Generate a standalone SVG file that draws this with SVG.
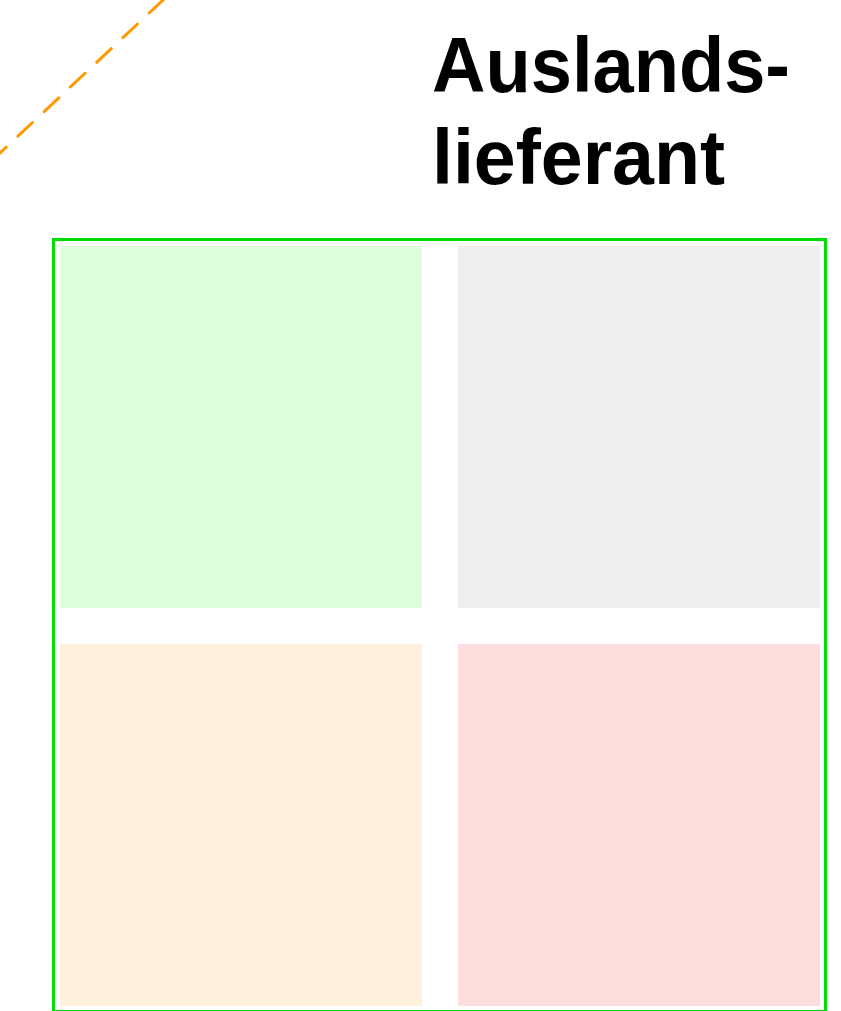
<svg xmlns="http://www.w3.org/2000/svg" width="841" height="1011" viewBox="0 0 841 1011">
<style>
.title{font-family:"Liberation Sans",Arial,sans-serif;font-weight:bold;font-size:78px;fill:#000}
.cell{stroke:none}
</style>
<rect width="841" height="1011" fill="#ffffff"/>
<g id="connectors">
<line x1="190" y1="-25.3" x2="-20" y2="171.8" stroke="#ff9900" stroke-width="3" stroke-dasharray="20 16" stroke-linecap="round"/>
</g>
<g id="title">
<text class="title" x="432" y="92" textLength="358" lengthAdjust="spacingAndGlyphs">Auslands-</text>
<text class="title" x="432" y="184" textLength="293" lengthAdjust="spacingAndGlyphs">lieferant</text>
</g>
<g id="frame">
<rect x="53.5" y="239.5" width="772" height="772" fill="none" stroke="#00dd00" stroke-width="3"/>
</g>
<g id="cell-top-left"><rect class="cell" x="60" y="246" width="362" height="362" fill="#ddfddd"/></g>
<g id="cell-top-right"><rect class="cell" x="458" y="246" width="362" height="362" fill="#efefef"/></g>
<g id="cell-bottom-left"><rect class="cell" x="60" y="644" width="362" height="362" fill="#fef0dd"/></g>
<g id="cell-bottom-right"><rect class="cell" x="458" y="644" width="362" height="362" fill="#fddddd"/></g>
</svg>
